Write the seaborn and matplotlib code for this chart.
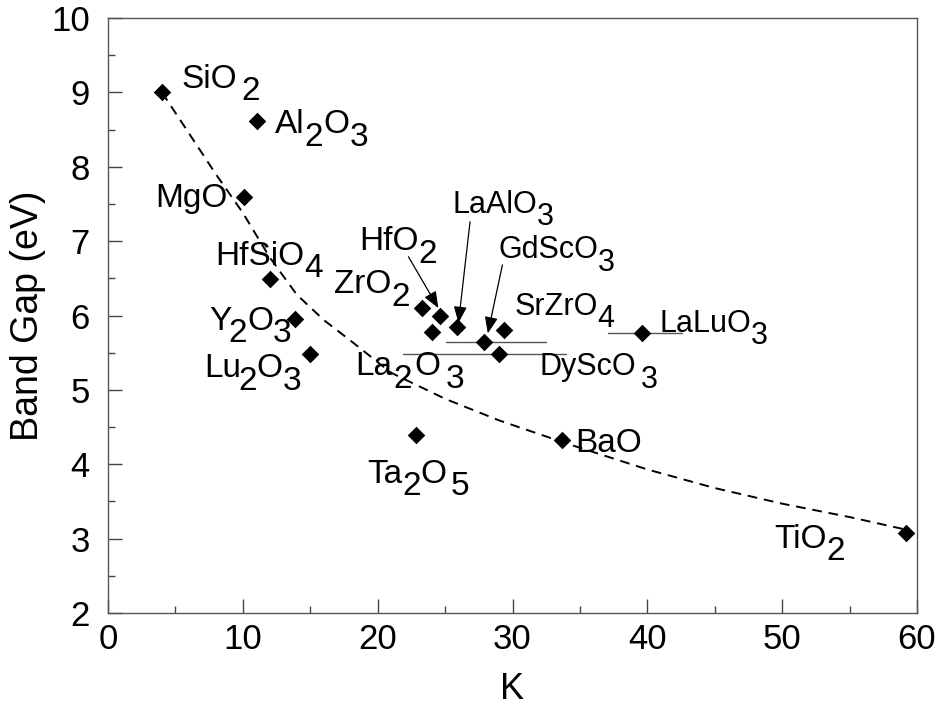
import matplotlib
matplotlib.use("Agg")
import matplotlib.pyplot as plt
from matplotlib.ticker import MultipleLocator
import seaborn as sns
import pandas as pd

# Dielectric constant (K) and band gap (eV) of gate oxide candidates
materials = ["SiO2", "Al2O3", "MgO", "HfSiO4", "Y2O3", "Lu2O3", "ZrO2", "HfO2",
             "La2O3", "LaAlO3", "GdScO3", "SrZrO4", "DyScO3", "LaLuO3", "Ta2O5",
             "BaO", "TiO2"]
k_values = [4.0, 11.05, 10.1, 12.0, 13.9, 15.0, 23.3, 24.6,
            24.0, 25.9, 27.9, 29.4, 29.0, 39.6, 22.85,
            33.7, 59.2]
gap_values = [9.0, 8.62, 7.59, 6.49, 5.95, 5.48, 6.10, 6.00,
              5.78, 5.85, 5.65, 5.81, 5.48, 5.76, 4.40,
              4.32, 3.08]

# Reported K spread for some of the ternary oxides
range_materials = ["GdScO3", "DyScO3", "LaLuO3"]
range_k_low = [25.1, 21.9, 37.1]
range_k_high = [32.5, 34.0, 42.6]

# Empirical trend of band gap versus K
trend_k = [4.0, 6.0, 8.0, 10.0, 12.0, 14.0, 16.0, 18.0, 21.0, 25.0, 29.0,
           34.0, 40.0, 45.0, 50.0, 55.0, 59.2]
trend_gap = [9.0, 8.45, 7.9, 7.38, 6.78, 6.28, 5.94, 5.66, 5.23, 4.88, 4.59,
             4.28, 3.93, 3.68, 3.47, 3.29, 3.12]

df = pd.DataFrame({"material": materials, "K": k_values, "gap": gap_values})
trend = pd.DataFrame({"K": trend_k, "gap": trend_gap})

sns.set_style("white")
plt.rcParams["font.family"] = ["Liberation Sans", "DejaVu Sans"]
plt.rcParams["text.color"] = "black"
plt.rcParams["axes.labelcolor"] = "black"
plt.rcParams["xtick.color"] = "#444444"
plt.rcParams["ytick.color"] = "#444444"
plt.rcParams["xtick.labelcolor"] = "black"
plt.rcParams["ytick.labelcolor"] = "black"

fig = plt.figure(figsize=(9.41, 7.09), dpi=100)
ax = fig.add_axes([0.1148, 0.1354, 0.8597, 0.8392])

sns.lineplot(data=trend, x="K", y="gap", ax=ax, color="black", lw=1.4,
             dashes=False, linestyle=(0, (5, 3.5)), zorder=2)

# horizontal bars spanning the K range
for name, lo, hi in zip(range_materials, range_k_low, range_k_high):
    g = gap_values[materials.index(name)]
    ax.plot([lo, hi], [g, g], color="#555555", lw=1.0, zorder=1)

sns.scatterplot(data=df, x="K", y="gap", ax=ax, marker="D", s=80,
                color="black", edgecolor="black", linewidth=0, zorder=3)


def chem_label(x, y, parts, size):
    """Place a formula piece by piece; subscripts keep full size but drop."""
    drop = 9.0
    first_txt, _, _ = parts[0]
    prev = ax.text(x, y, first_txt, fontsize=size, va="baseline", ha="left",
                   color="black", zorder=4)
    prev_sub = False
    for txt, sub, dx in parts[1:]:
        dy = 0.0
        if sub and not prev_sub:
            dy = -drop
        elif prev_sub and not sub:
            dy = drop
        prev = ax.annotate(txt, xy=(1, 0), xycoords=prev, xytext=(dx, dy),
                           textcoords="offset points", va="bottom", ha="left",
                           fontsize=size, color="black", zorder=4)
        prev_sub = sub


big, small = 24, 22
labels = [
    (5.42, 9.06, [("SiO", 0, 0), ("2", 1, 3)], big),
    (12.39, 8.45, [("Al", 0, 0), ("2", 1, 0), ("O", 0, 0), ("3", 1, 0)], big),
    (3.50, 7.46, [("MgO", 0, 0)], big),
    (7.94, 6.68, [("HfSiO", 0, 0), ("4", 1, 0)], big),
    (16.74, 6.30, [("ZrO", 0, 0), ("2", 1, 0)], big),
    (18.60, 6.88, [("HfO", 0, 0), ("2", 1, 0)], big),
    (25.52, 7.38, [("LaAlO", 0, 0), ("3", 1, 0)], small),
    (28.93, 6.77, [("GdScO", 0, 0), ("3", 1, 0)], small),
    (30.12, 6.01, [("SrZrO", 0, 0), ("4", 1, 0)], small),
    (40.88, 5.78, [("LaLuO", 0, 0), ("3", 1, 0)], small),
    (7.50, 5.81, [("Y", 0, 0), ("2", 1, -2), ("O", 0, 0), ("3", 1, 0)], big),
    (7.10, 5.17, [("Lu", 0, 0), ("2", 1, -2), ("O", 0, 0), ("3", 1, 0)], big),
    (18.30, 5.20, [("La", 0, 0), ("2", 1, 1), ("O", 0, 2), ("3", 1, 4)], big),
    (31.97, 5.20, [("DyScO", 0, 0), ("3", 1, 4)], small),
    (19.20, 3.75, [("Ta", 0, 0), ("2", 1, 0), ("O", 0, 0), ("5", 1, 3)], big),
    (34.64, 4.17, [("BaO", 0, 0)], big),
    (49.40, 2.88, [("TiO", 0, 0), ("2", 1, 0)], big),
]
for x, y, parts, size in labels:
    chem_label(x, y, parts, size)

# arrows from labels to crowded points
arrows = [((22.28, 6.79), (24.50, 6.10)),
          ((26.85, 7.26), (25.99, 5.90)),
          ((29.25, 6.68), (28.17, 5.76))]
for tail, tip in arrows:
    ax.annotate("", xy=tip, xytext=tail,
                arrowprops=dict(arrowstyle="-|>,head_length=0.5,head_width=0.2",
                                mutation_scale=20, lw=0.9, color="black",
                                shrinkA=0, shrinkB=0), zorder=4)

ax.set_xlim(0, 60)
ax.set_ylim(2, 10)
ax.xaxis.set_major_locator(MultipleLocator(10))
ax.xaxis.set_minor_locator(MultipleLocator(5))
ax.yaxis.set_major_locator(MultipleLocator(1))
ax.yaxis.set_minor_locator(MultipleLocator(0.5))
ax.tick_params(which="both", direction="in", top=False, right=False,
               bottom=True, left=True, width=1.0)
ax.tick_params(which="major", length=10)
ax.tick_params(which="minor", length=5)
ax.tick_params(axis="x", which="major", labelsize=25, pad=7)
ax.tick_params(axis="y", which="major", labelsize=25, pad=13)

for sp in ax.spines.values():
    sp.set_color("#555555")
    sp.set_linewidth(1.0)

ax.set_xlabel("K", fontsize=26, labelpad=12)
ax.set_ylabel("Band Gap (eV)", fontsize=27, labelpad=4)

fig.savefig("out.png", dpi=100)
